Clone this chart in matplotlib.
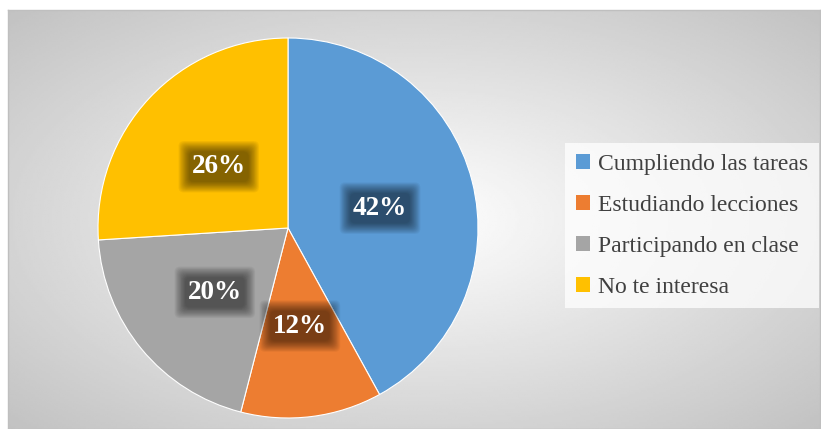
import numpy as np
import matplotlib
matplotlib.use("Agg")
import matplotlib.pyplot as plt
from matplotlib.patches import Patch

# data
categories = ["Cumpliendo las tareas", "Estudiando lecciones", "Participando en clase", "No te interesa"]
values = [42, 12, 20, 26]
colors = ["#5B9BD5", "#ED7D31", "#A5A5A5", "#FFC000"]

W, H = 821, 429
fig = plt.figure(figsize=(W / 100, H / 100), dpi=100)
fig.patch.set_facecolor("white")

# chart area with radial gradient
x0, y0, x1, y1 = 8, 10, 820, 429
bg = fig.add_axes([x0 / W, 1 - y1 / H, (x1 - x0) / W, (y1 - y0) / H])
xx, yy = np.meshgrid(np.linspace(-1, 1, 400), np.linspace(-1, 1, 200))
rr = np.sqrt(xx ** 2 + yy ** 2) / np.sqrt(2)
shade = 1.0 - 0.24 * np.clip(rr, 0, 1)
bg.imshow(shade, cmap="gray", vmin=0, vmax=1, aspect="auto", extent=[0, 1, 0, 1])
bg.set_xticks([])
bg.set_yticks([])
for s in bg.spines.values():
    s.set_color("#bfbfbf")
    s.set_linewidth(1.0)

# pie
cx, cy, R = 288, 228, 190
ax = fig.add_axes([(cx - R) / W, (H - cy - R) / H, 2 * R / W, 2 * R / H])
wedges, texts = ax.pie(values, colors=colors, startangle=90, counterclock=False,
                       radius=1, wedgeprops=dict(edgecolor="white", linewidth=0.8))
ax.set_xlim(-1, 1)
ax.set_ylim(-1, 1)
ax.set_aspect("equal")
ax.axis("off")

# labels with soft dark box (fake blur with stacked boxes)
tot = sum(values)
start = 90.0
for v in values:
    ang = np.deg2rad(start - v / tot * 180.0)
    start -= v / tot * 360.0
    tx, ty = 0.5 * np.cos(ang), 0.5 * np.sin(ang) - 0.02
    for i in range(14):
        ax.text(tx, ty, "%d%%" % v, ha="center", va="center", fontsize=19.5,
                fontweight="bold", family="Liberation Serif", color="none",
                bbox=dict(boxstyle="round,pad=%.2f,rounding_size=0.2" % (0.1 + 0.03 * i),
                          facecolor="black", edgecolor="none", alpha=0.045))
    ax.text(tx, ty, "%d%%" % v, ha="center", va="center", fontsize=19.5,
            fontweight="bold", family="Liberation Serif", color="white")

# legend
handles = [Patch(facecolor=c, edgecolor="none") for c in colors]
leg = fig.legend(handles, categories, loc="upper left",
                 bbox_to_anchor=(565 / W, 1 - 143 / H),
                 prop=dict(family="Liberation Serif", size=17),
                 frameon=True, fancybox=False, framealpha=0.75,
                 facecolor="white", edgecolor="none",
                 handlelength=0.6, handleheight=0.6, handletextpad=0.35,
                 labelspacing=0.85, borderpad=0.45, borderaxespad=0)
for t in leg.get_texts():
    t.set_color("#404040")

fig.savefig("out.png", dpi=100)
